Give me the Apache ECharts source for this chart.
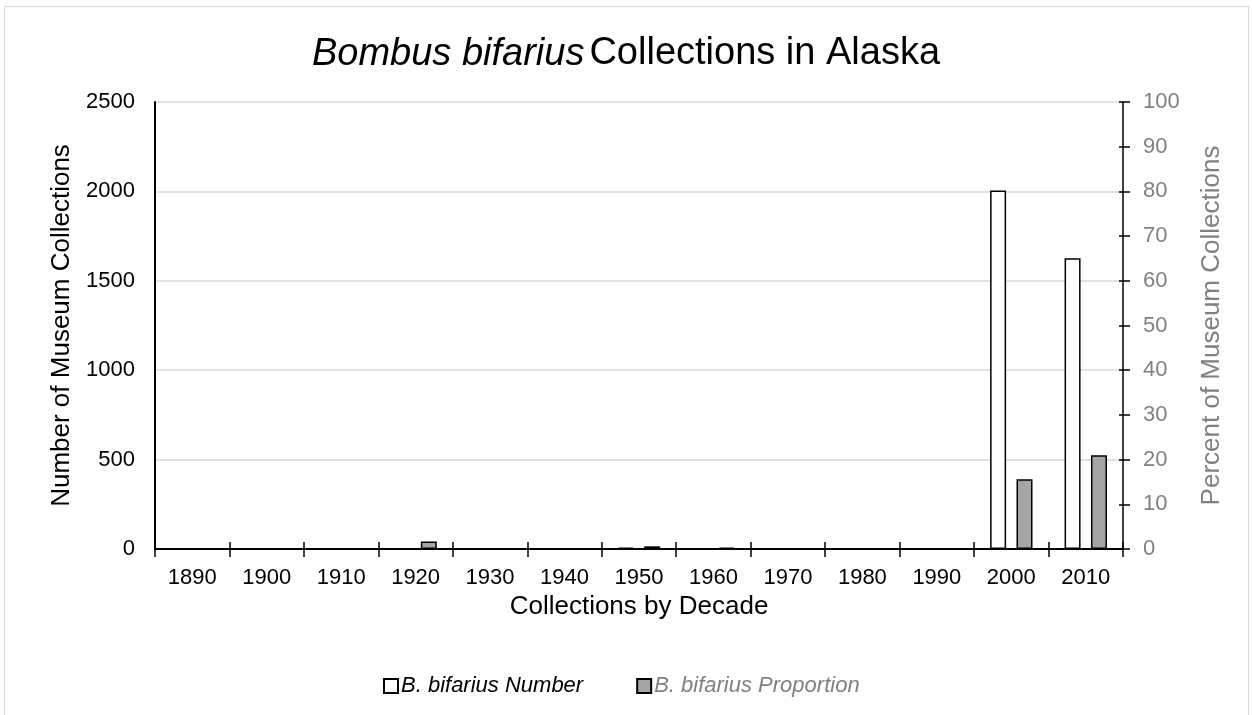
<!DOCTYPE html>
<html>
<head>
<meta charset="utf-8">
<script src="https://cdn.jsdelivr.net/npm/echarts@6/dist/echarts.min.js"></script>
<style>
  html, body { margin: 0; padding: 0; background: #fff; }
  #chart { width: 1252px; height: 715px; }
</style>
</head>
<body>
<div id="chart"></div>
<script>
const categories = ['1890', '1900', '1910', '1920', '1930', '1940', '1950', '1960', '1970', '1980', '1990', '2000', '2010'];
const numberValues = [0, 0, 0, 2, 0, 0, 7, 3, 0, 0, 0, 2005, 1626];
const proportionValues = [0, 0, 0, 1.7, 0, 0, 0.6, 0.3, 0, 0, 0, 15.6, 21.0];
const seriesNames = ['B. bifarius Number', 'B. bifarius Proportion'];

const FONT = 'Liberation Sans, Arial, sans-serif';
const GREY_TEXT = '#808080';

const chart = echarts.init(document.getElementById('chart'), null, { renderer: 'canvas' });

chart.setOption({
  backgroundColor: '#ffffff',
  animation: false,
  textStyle: { fontFamily: FONT },
  graphic: [{
    type: 'rect',
    shape: { x: 4.5, y: 6.5, width: 1244, height: 730 },
    style: { fill: 'none', stroke: '#d9d9d9', lineWidth: 1 },
    silent: true
  }],
  title: {
    text: '{i|Bombus bifarius} {n|Collections in Alaska}',
    left: 'center',
    top: 30,
    textStyle: {
      fontWeight: 'normal',
      rich: {
        i: { fontFamily: FONT, fontSize: 38, fontStyle: 'italic', fontWeight: 'normal', color: '#000' },
        n: { fontFamily: FONT, fontSize: 38, fontWeight: 'normal', color: '#000' }
      }
    }
  },
  legend: {
    left: 378,
    top: 670,
    itemWidth: 14,
    itemHeight: 14,
    itemGap: 53,
    icon: 'rect',
    textStyle: { fontFamily: FONT, fontSize: 22, fontStyle: 'italic', padding: [0, 0, 0, -2] },
    data: [
      { name: seriesNames[0], textStyle: { color: '#000' } },
      { name: seriesNames[1], textStyle: { color: GREY_TEXT } }
    ]
  },
  grid: { left: 155, right: 129, top: 102, bottom: 166, containLabel: false },
  xAxis: [{
    type: 'category',
    data: categories,
    name: 'Collections by Decade',
    nameLocation: 'middle',
    nameGap: 35,
    nameTextStyle: { fontFamily: FONT, fontSize: 26, color: '#000', verticalAlign: 'top' },
    axisLine: { show: true, lineStyle: { color: '#000', width: 2 } },
    axisTick: { show: true, inside: false, length: 8, lineStyle: { color: '#000', width: 1.5 } },
    axisLabel: { fontFamily: FONT, fontSize: 22, color: '#000', margin: 18 }
  }, {
    type: 'category',
    data: categories,
    position: 'bottom',
    axisLine: { show: false },
    axisTick: { show: true, inside: true, length: 7, lineStyle: { color: '#000', width: 1.5 } },
    axisLabel: { show: false }
  }],
  yAxis: [{
    type: 'value',
    min: 0, max: 2500, interval: 500,
    position: 'left',
    name: 'Number of Museum Collections',
    nameLocation: 'middle',
    nameGap: 80,
    nameTextStyle: { fontFamily: FONT, fontSize: 26, color: '#000' },
    axisLine: { show: true, lineStyle: { color: '#000', width: 2 } },
    axisTick: { show: false },
    axisLabel: { fontFamily: FONT, fontSize: 22, color: '#000', margin: 20, formatter: v => String(v) },
    splitLine: { show: true, lineStyle: { color: '#d9d9d9', width: 1.5 } }
  }, {
    type: 'value',
    min: 0, max: 100, interval: 10,
    position: 'right',
    name: 'Percent of Museum Collections',
    nameLocation: 'middle',
    nameGap: 76,
    nameRotate: 90,
    nameTextStyle: { fontFamily: FONT, fontSize: 26, color: GREY_TEXT },
    axisLine: { show: true, lineStyle: { color: '#000', width: 1.5 } },
    axisTick: { show: true, inside: false, length: 7, lineStyle: { color: '#000', width: 1.5 } },
    axisLabel: { fontFamily: FONT, fontSize: 22, color: GREY_TEXT, margin: 20 },
    splitLine: { show: false }
  }, {
    type: 'value',
    min: 0, max: 100, interval: 10,
    position: 'right',
    axisLine: { show: false },
    axisTick: { show: true, inside: true, length: 4, lineStyle: { color: '#000', width: 1.5 } },
    axisLabel: { show: false },
    splitLine: { show: false }
  }],
  series: [{
    name: seriesNames[0],
    type: 'bar',
    xAxisIndex: 0,
    yAxisIndex: 0,
    data: numberValues,
    barWidth: 16,
    barGap: '65%',
    itemStyle: { color: '#ffffff', borderColor: '#000', borderWidth: 1.5 }
  }, {
    name: seriesNames[1],
    type: 'bar',
    xAxisIndex: 0,
    yAxisIndex: 1,
    data: proportionValues,
    barWidth: 16,
    itemStyle: { color: '#a5a5a5', borderColor: '#000', borderWidth: 1.5 }
  }]
});
</script>
</body>
</html>
